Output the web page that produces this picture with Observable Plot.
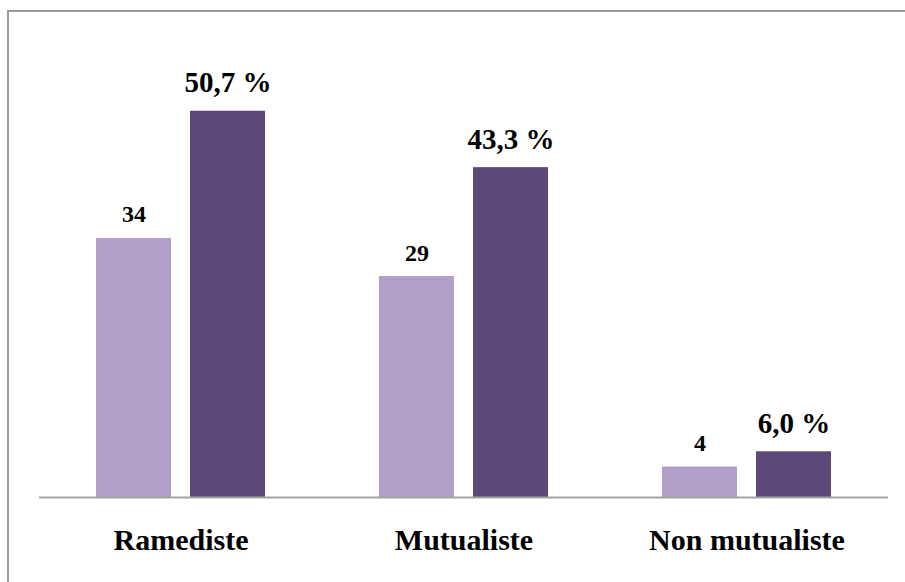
<!DOCTYPE html>
<html lang="fr">
<head>
<meta charset="utf-8">
<script src="https://cdn.jsdelivr.net/npm/d3@7"></script>
<script src="https://cdn.jsdelivr.net/npm/@observablehq/plot@0.6"></script>
<style>
  html, body { margin: 0; padding: 0; background: #fff; overflow: hidden; }
  #wrap { position: relative; width: 905px; height: 582px; overflow: hidden; }
  #wrap svg { position: absolute; left: 0; top: 0; }
  #wrap svg, #wrap svg text {
    font-family: "Liberation Serif", "Times New Roman", "DejaVu Serif", serif !important;
    font-weight: bold;
  }
  #frame {
    position: absolute; left: 7px; top: 10px; width: 1000px; height: 1000px;
    border: 2px solid #9a9a9a; box-shadow: 1px 1px 1px #d0d0d0;
    pointer-events: none;
  }
</style>
</head>
<body>
<div id="wrap"><div id="frame"></div></div>
<script>
// Catégories et valeurs
const categories = ["Ramediste", "Mutualiste", "Non mutualiste"];
const series = ["Effectif", "Pourcentage"];
const counts = [34, 29, 4];
const percents = [50.7, 43.3, 6.0];
const colors = ["#b19fc9", "#5e4879"];

const frFmt = v => v.toFixed(1).replace(".", ",") + " %";

const countRows = categories.map((c, i) => ({category: c, series: series[0], value: counts[i], label: String(counts[i])}));
const pctRows = categories.map((c, i) => ({category: c, series: series[1], value: percents[i], label: frFmt(percents[i])}));
const rows = countRows.concat(pctRows);

const chart = Plot.plot({
  width: 905,
  height: 582,
  marginLeft: 38,
  marginRight: 17,
  marginTop: 78,
  marginBottom: 85,
  style: {color: "#000", background: "transparent"},
  fx: {domain: categories, padding: 0, label: null},
  x: {domain: series, paddingInner: 0.2, paddingOuter: 0.59, axis: null},
  y: {domain: [0, 55], axis: null},
  color: {domain: series, range: colors},
  marks: [
    Plot.barY(rows, {fx: "category", x: "series", y: "value", fill: "series"}),
    Plot.ruleY([0], {stroke: "#a3a3a3", strokeWidth: 2}),
    Plot.text(countRows, {fx: "category", x: "series", y: "value", text: "label", dy: -16, lineAnchor: "bottom", fontSize: 24, fontWeight: "bold", fill: "#000"}),
    Plot.text(pctRows, {fx: "category", x: "series", y: "value", text: "label", dy: -19, lineAnchor: "bottom", fontSize: 29, fontWeight: "bold", fill: "#000"}),
    Plot.axisFx({anchor: "bottom", tickSize: 0, tickPadding: 31, fontSize: 30, fontWeight: "bold", label: null})
  ]
});
document.getElementById("wrap").insertBefore(chart, document.getElementById("frame"));
</script>
</body>
</html>
